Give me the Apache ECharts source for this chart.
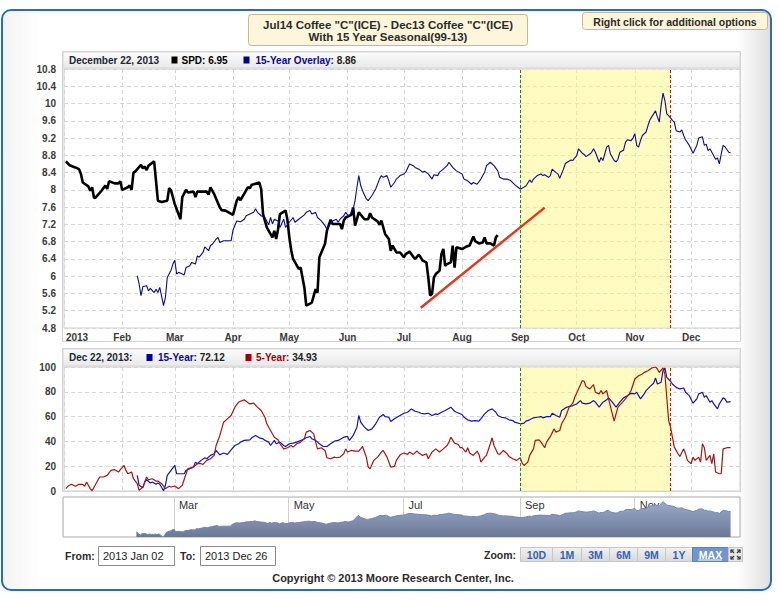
<!DOCTYPE html>
<html>
<head>
<meta charset="utf-8">
<script src="https://cdn.jsdelivr.net/npm/echarts@6/dist/echarts.min.js"></script>
<style>
html, body { margin: 0; padding: 0; background: #fff; }
#chart { width: 780px; height: 600px; }
</style>
</head>
<body>
<div id="chart"></div>
<script>
// Jul14 - Dec13 coffee spread (SPD), black line
var spd = [
    ['2013-01-02', 8.66], ['2013-01-04', 8.57], ['2013-01-07', 8.52], ['2013-01-09', 8.48], ['2013-01-10', 8.37],
    ['2013-01-11', 8.17], ['2013-01-14', 8.08], ['2013-01-15', 7.98], ['2013-01-16', 8.06], ['2013-01-17', 7.81],
    ['2013-01-18', 7.83], ['2013-01-21', 7.98], ['2013-01-23', 8.10], ['2013-01-24', 8.02], ['2013-01-25', 8.20],
    ['2013-01-28', 8.15], ['2013-01-30', 8.15], ['2013-01-31', 8.20], ['2013-02-01', 8.00], ['2013-02-04', 8.06],
    ['2013-02-05', 8.10], ['2013-02-06', 8.00], ['2013-02-07', 8.40], ['2013-02-08', 8.43], ['2013-02-11', 8.58],
    ['2013-02-12', 8.50], ['2013-02-13', 8.54], ['2013-02-14', 8.46], ['2013-02-15', 8.56], ['2013-02-18', 8.66],
    ['2013-02-19', 8.21], ['2013-02-20', 7.75], ['2013-02-22', 7.72], ['2013-02-25', 7.75], ['2013-02-26', 8.04],
    ['2013-02-27', 7.99], ['2013-03-01', 7.67], ['2013-03-04', 7.32], ['2013-03-05', 7.83], ['2013-03-07', 8.00],
    ['2013-03-08', 7.94], ['2013-03-11', 7.96], ['2013-03-12', 7.83], ['2013-03-13', 7.96], ['2013-03-15', 7.96],
    ['2013-03-18', 7.96], ['2013-03-19', 7.89], ['2013-03-20', 8.06], ['2013-03-22', 7.90], ['2013-03-25', 7.59],
    ['2013-03-26', 7.53], ['2013-03-28', 7.52], ['2013-04-01', 7.42], ['2013-04-03', 7.75], ['2013-04-04', 7.83],
    ['2013-04-05', 7.76], ['2013-04-08', 7.99], ['2013-04-09', 8.06], ['2013-04-10', 8.04], ['2013-04-11', 8.12],
    ['2013-04-12', 8.13], ['2013-04-15', 8.17], ['2013-04-16', 8.02], ['2013-04-17', 7.44], ['2013-04-19', 7.13],
    ['2013-04-22', 6.90], ['2013-04-23', 7.05], ['2013-04-24', 6.86], ['2013-04-25', 7.09], ['2013-04-26', 7.44],
    ['2013-04-29', 7.52], ['2013-04-30', 7.30], ['2013-05-01', 6.90], ['2013-05-02', 6.60], ['2013-05-03', 6.40],
    ['2013-05-06', 6.17], ['2013-05-07', 6.20], ['2013-05-09', 5.74], ['2013-05-10', 5.32], ['2013-05-13', 5.39],
    ['2013-05-14', 5.55], ['2013-05-15', 5.70], ['2013-05-16', 5.62], ['2013-05-17', 6.44], ['2013-05-20', 6.75],
    ['2013-05-21', 7.05], ['2013-05-23', 7.31], ['2013-05-24', 7.21], ['2013-05-28', 7.21], ['2013-05-29', 7.09],
    ['2013-05-30', 7.29], ['2013-05-31', 7.36], ['2013-06-03', 7.42], ['2013-06-04', 7.59], ['2013-06-05', 7.17],
    ['2013-06-07', 7.48], ['2013-06-10', 7.32], ['2013-06-12', 7.32], ['2013-06-13', 7.46], ['2013-06-14', 7.36],
    ['2013-06-17', 7.27], ['2013-06-18', 7.19], ['2013-06-19', 7.29], ['2013-06-21', 6.98], ['2013-06-23', 6.86],
    ['2013-06-24', 6.59], ['2013-06-25', 6.71], ['2013-06-27', 6.55], ['2013-06-29', 6.55], ['2013-07-01', 6.44],
    ['2013-07-02', 6.51], ['2013-07-04', 6.57], ['2013-07-06', 6.45], ['2013-07-07', 6.40], ['2013-07-09', 6.50],
    ['2013-07-11', 6.36], ['2013-07-13', 6.32], ['2013-07-14', 5.97], ['2013-07-15', 5.55], ['2013-07-16', 5.59],
    ['2013-07-17', 5.97], ['2013-07-18', 6.05], ['2013-07-20', 6.13], ['2013-07-21', 6.51], ['2013-07-22', 6.63],
    ['2013-07-23', 6.24], ['2013-07-24', 6.28], ['2013-07-26', 6.32], ['2013-07-27', 6.71], ['2013-07-28', 6.20],
    ['2013-07-29', 6.67], ['2013-08-01', 6.63], ['2013-08-03', 6.68], ['2013-08-05', 6.71], ['2013-08-07', 6.92],
    ['2013-08-08', 6.81], ['2013-08-10', 6.76], ['2013-08-12', 6.78], ['2013-08-13', 6.90], ['2013-08-14', 6.76],
    ['2013-08-16', 6.76], ['2013-08-18', 6.71], ['2013-08-19', 6.90], ['2013-08-20', 6.95]
];

// 15-year seasonal overlay (blue, top chart and navigator)
var overlay = [
    ['2013-02-09', 6.01], ['2013-02-10', 5.82], ['2013-02-11', 5.55], ['2013-02-12', 5.76], ['2013-02-14', 5.78],
    ['2013-02-15', 5.66], ['2013-02-16', 5.72], ['2013-02-18', 5.62], ['2013-02-19', 5.70], ['2013-02-20', 5.62],
    ['2013-02-21', 5.74], ['2013-02-23', 5.32], ['2013-02-24', 5.51], ['2013-02-25', 5.97], ['2013-02-27', 6.14],
    ['2013-02-28', 6.28], ['2013-03-01', 6.37], ['2013-03-02', 6.05], ['2013-03-03', 6.09], ['2013-03-05', 6.05],
    ['2013-03-06', 6.03], ['2013-03-07', 6.20], ['2013-03-09', 6.24], ['2013-03-10', 6.32], ['2013-03-12', 6.28],
    ['2013-03-13', 6.47], ['2013-03-14', 6.44], ['2013-03-16', 6.55], ['2013-03-17', 6.68], ['2013-03-19', 6.59],
    ['2013-03-20', 6.71], ['2013-03-21', 6.74], ['2013-03-23', 6.86], ['2013-03-24', 6.90], ['2013-03-25', 6.78],
    ['2013-03-27', 6.82], ['2013-03-28', 6.82], ['2013-03-31', 6.82], ['2013-04-01', 7.07], ['2013-04-03', 7.28],
    ['2013-04-05', 7.26], ['2013-04-07', 7.32], ['2013-04-08', 7.40], ['2013-04-10', 7.44], ['2013-04-12', 7.48],
    ['2013-04-13', 7.56], ['2013-04-14', 7.48], ['2013-04-16', 7.40], ['2013-04-18', 7.36], ['2013-04-20', 7.19],
    ['2013-04-21', 7.36], ['2013-04-22', 7.21], ['2013-04-23', 7.32], ['2013-04-25', 7.28], ['2013-04-26', 7.13],
    ['2013-04-28', 7.32], ['2013-04-29', 7.13], ['2013-05-01', 7.25], ['2013-05-03', 7.36], ['2013-05-04', 7.25],
    ['2013-05-06', 7.32], ['2013-05-09', 7.42], ['2013-05-10', 7.48], ['2013-05-12', 7.52], ['2013-05-13', 7.44],
    ['2013-05-15', 7.48], ['2013-05-16', 7.36], ['2013-05-18', 7.28], ['2013-05-20', 7.17], ['2013-05-21', 7.09],
    ['2013-05-22', 7.17], ['2013-05-24', 7.28], ['2013-05-26', 7.32], ['2013-05-27', 7.25], ['2013-05-28', 7.32],
    ['2013-05-30', 7.40], ['2013-05-31', 7.48], ['2013-06-01', 7.42], ['2013-06-02', 7.40], ['2013-06-04', 7.56],
    ['2013-06-05', 7.75], ['2013-06-06', 8.06], ['2013-06-07', 8.33], ['2013-06-08', 8.10], ['2013-06-09', 7.98],
    ['2013-06-11', 7.79], ['2013-06-12', 7.75], ['2013-06-14', 7.87], ['2013-06-16', 8.02], ['2013-06-18', 8.25],
    ['2013-06-19', 8.33], ['2013-06-20', 8.29], ['2013-06-22', 8.33], ['2013-06-23', 8.21], ['2013-06-24', 8.06],
    ['2013-06-26', 8.17], ['2013-06-27', 8.25], ['2013-06-29', 8.33], ['2013-07-01', 8.37], ['2013-07-02', 8.41],
    ['2013-07-04', 8.60], ['2013-07-06', 8.56], ['2013-07-07', 8.52], ['2013-07-09', 8.48], ['2013-07-11', 8.41],
    ['2013-07-12', 8.43], ['2013-07-14', 8.37], ['2013-07-16', 8.25], ['2013-07-17', 8.35], ['2013-07-19', 8.33],
    ['2013-07-20', 8.41], ['2013-07-22', 8.48], ['2013-07-24', 8.56], ['2013-07-25', 8.64], ['2013-07-27', 8.52],
    ['2013-07-29', 8.44], ['2013-08-01', 8.37], ['2013-08-02', 8.25], ['2013-08-04', 8.21], ['2013-08-06', 8.13],
    ['2013-08-07', 8.17], ['2013-08-09', 8.13], ['2013-08-11', 8.25], ['2013-08-13', 8.41], ['2013-08-14', 8.56],
    ['2013-08-16', 8.64], ['2013-08-18', 8.56], ['2013-08-20', 8.44], ['2013-08-21', 8.29], ['2013-08-23', 8.25],
    ['2013-08-25', 8.25], ['2013-08-27', 8.21], ['2013-08-29', 8.12], ['2013-09-01', 8.02], ['2013-09-02', 8.04],
    ['2013-09-04', 8.09], ['2013-09-06', 8.23], ['2013-09-07', 8.17], ['2013-09-08', 8.25], ['2013-09-10', 8.33],
    ['2013-09-12', 8.37], ['2013-09-13', 8.33], ['2013-09-14', 8.35], ['2013-09-16', 8.29], ['2013-09-17', 8.33],
    ['2013-09-18', 8.48], ['2013-09-20', 8.40], ['2013-09-21', 8.37], ['2013-09-22', 8.27], ['2013-09-24', 8.48],
    ['2013-09-25', 8.61], ['2013-09-26', 8.64], ['2013-09-28', 8.69], ['2013-09-29', 8.68], ['2013-09-30', 8.74],
    ['2013-10-01', 8.79], ['2013-10-02', 8.95], ['2013-10-04', 8.85], ['2013-10-05', 8.82], ['2013-10-06', 8.77],
    ['2013-10-08', 8.83], ['2013-10-09', 8.87], ['2013-10-10', 8.95], ['2013-10-11', 8.87], ['2013-10-13', 8.64],
    ['2013-10-14', 8.75], ['2013-10-15', 8.68], ['2013-10-17', 8.99], ['2013-10-18', 9.03], ['2013-10-19', 8.83],
    ['2013-10-21', 8.68], ['2013-10-22', 8.65], ['2013-10-23', 8.71], ['2013-10-24', 8.87], ['2013-10-26', 8.92],
    ['2013-10-27', 9.10], ['2013-10-28', 9.16], ['2013-10-30', 9.14], ['2013-10-31', 9.20], ['2013-11-01', 9.30],
    ['2013-11-02', 9.03], ['2013-11-03', 8.99], ['2013-11-04', 9.14], ['2013-11-05', 9.26], ['2013-11-07', 9.34],
    ['2013-11-08', 9.49], ['2013-11-09', 9.62], ['2013-11-10', 9.69], ['2013-11-12', 9.83], ['2013-11-13', 9.69],
    ['2013-11-14', 9.57], ['2013-11-15', 9.96], ['2013-11-16', 10.24], ['2013-11-17', 10.07], ['2013-11-18', 9.76],
    ['2013-11-19', 9.72], ['2013-11-21', 9.61], ['2013-11-22', 9.57], ['2013-11-23', 9.37], ['2013-11-25', 9.34],
    ['2013-11-26', 9.39], ['2013-11-27', 9.26], ['2013-11-28', 9.16], ['2013-11-30', 9.03], ['2013-12-02', 8.85],
    ['2013-12-04', 9.03], ['2013-12-05', 9.20], ['2013-12-07', 9.23], ['2013-12-08', 9.03], ['2013-12-09', 9.06],
    ['2013-12-10', 8.91], ['2013-12-11', 8.95], ['2013-12-12', 8.87], ['2013-12-14', 8.71], ['2013-12-15', 8.74],
    ['2013-12-16', 8.60], ['2013-12-17', 8.83], ['2013-12-18', 9.03], ['2013-12-19', 9.00], ['2013-12-21', 8.87],
    ['2013-12-22', 8.86]
];

// lower panel: 15-year seasonal index (blue)
var seas15 = [
    ['2013-02-09', 12.6], ['2013-02-10', 4.6], ['2013-02-12', 2.7], ['2013-02-13', 7.2], ['2013-02-14', 9.1],
    ['2013-02-16', 6.4], ['2013-02-17', 7.2], ['2013-02-19', 5.4], ['2013-02-20', 6.4], ['2013-02-21', 5.4],
    ['2013-02-23', 0.2], ['2013-02-24', 4.6], ['2013-02-25', 12.6], ['2013-02-27', 16.6], ['2013-03-01', 20.6],
    ['2013-03-02', 13.9], ['2013-03-04', 13.9], ['2013-03-06', 13.9], ['2013-03-07', 16.6], ['2013-03-09', 18.0],
    ['2013-03-11', 19.3], ['2013-03-12', 23.3], ['2013-03-13', 22.0], ['2013-03-15', 24.7], ['2013-03-17', 26.8],
    ['2013-03-18', 26.0], ['2013-03-20', 28.7], ['2013-03-22', 30.0], ['2013-03-23', 32.7], ['2013-03-25', 29.2],
    ['2013-03-27', 30.6], ['2013-03-29', 29.5], ['2013-03-31', 33.2], ['2013-04-02', 36.7], ['2013-04-04', 38.1],
    ['2013-04-05', 39.4], ['2013-04-07', 40.8], ['2013-04-10', 41.3], ['2013-04-11', 42.9], ['2013-04-13', 44.8],
    ['2013-04-15', 42.9], ['2013-04-17', 42.1], ['2013-04-18', 40.8], ['2013-04-20', 39.4], ['2013-04-21', 36.7],
    ['2013-04-23', 40.8], ['2013-04-24', 38.1], ['2013-04-26', 39.4], ['2013-04-28', 36.7], ['2013-04-29', 35.9],
    ['2013-05-01', 38.1], ['2013-05-03', 38.6], ['2013-05-05', 39.4], ['2013-05-08', 41.3], ['2013-05-10', 42.9],
    ['2013-05-12', 44.0], ['2013-05-13', 42.1], ['2013-05-15', 40.8], ['2013-05-17', 38.1], ['2013-05-19', 35.9],
    ['2013-05-21', 35.9], ['2013-05-23', 38.1], ['2013-05-25', 40.2], ['2013-05-27', 40.8], ['2013-05-30', 43.4],
    ['2013-06-01', 44.0], ['2013-06-02', 40.8], ['2013-06-04', 44.8], ['2013-06-06', 51.5], ['2013-06-07', 60.9],
    ['2013-06-08', 55.5], ['2013-06-10', 51.5], ['2013-06-12', 48.8], ['2013-06-14', 50.1], ['2013-06-16', 54.2],
    ['2013-06-18', 59.5], ['2013-06-20', 61.7], ['2013-06-21', 60.0], ['2013-06-23', 59.5], ['2013-06-24', 56.0],
    ['2013-06-26', 58.2], ['2013-06-28', 60.0], ['2013-06-29', 60.9], ['2013-07-01', 62.7], ['2013-07-03', 63.5],
    ['2013-07-05', 66.2], ['2013-07-07', 64.3], ['2013-07-09', 63.5], ['2013-07-10', 62.7], ['2013-07-12', 62.2],
    ['2013-07-14', 62.7], ['2013-07-16', 60.9], ['2013-07-18', 62.2], ['2013-07-19', 61.7], ['2013-07-21', 63.5],
    ['2013-07-23', 64.9], ['2013-07-26', 67.6], ['2013-07-28', 64.3], ['2013-07-29', 63.5], ['2013-08-01', 61.7],
    ['2013-08-02', 59.5], ['2013-08-04', 57.4], ['2013-08-06', 56.3], ['2013-08-08', 56.8], ['2013-08-10', 56.3],
    ['2013-08-11', 58.2], ['2013-08-13', 62.2], ['2013-08-15', 64.9], ['2013-08-17', 66.2], ['2013-08-19', 63.5],
    ['2013-08-20', 60.9], ['2013-08-22', 59.5], ['2013-08-24', 59.0], ['2013-08-26', 57.4], ['2013-08-28', 56.8],
    ['2013-08-29', 55.5], ['2013-09-01', 54.2], ['2013-09-03', 54.7], ['2013-09-04', 56.3], ['2013-09-06', 57.4],
    ['2013-09-08', 59.0], ['2013-09-10', 59.5], ['2013-09-12', 60.0], ['2013-09-13', 59.0], ['2013-09-15', 60.0],
    ['2013-09-17', 60.0], ['2013-09-18', 62.7], ['2013-09-20', 60.9], ['2013-09-22', 59.5], ['2013-09-23', 64.9],
    ['2013-09-25', 67.0], ['2013-09-27', 68.1], ['2013-09-29', 68.9], ['2013-10-01', 70.2], ['2013-10-03', 72.9],
    ['2013-10-04', 70.8], ['2013-10-06', 70.2], ['2013-10-08', 70.8], ['2013-10-10', 72.9], ['2013-10-11', 71.6],
    ['2013-10-13', 67.6], ['2013-10-15', 71.6], ['2013-10-17', 73.5], ['2013-10-18', 75.1], ['2013-10-20', 71.6],
    ['2013-10-22', 67.6], ['2013-10-24', 71.6], ['2013-10-26', 75.1], ['2013-10-28', 76.9], ['2013-10-30', 78.8],
    ['2013-11-01', 78.3], ['2013-11-02', 79.6], ['2013-11-04', 74.3], ['2013-11-06', 78.3], ['2013-11-07', 81.0],
    ['2013-11-09', 84.2], ['2013-11-11', 86.9], ['2013-11-12', 91.2], ['2013-11-13', 86.3], ['2013-11-15', 87.7],
    ['2013-11-16', 97.0], ['2013-11-17', 99.2], ['2013-11-18', 91.7], ['2013-11-20', 88.5], ['2013-11-21', 86.3],
    ['2013-11-23', 83.6], ['2013-11-25', 82.3], ['2013-11-27', 83.1], ['2013-11-28', 79.6], ['2013-11-30', 76.9],
    ['2013-12-02', 70.8], ['2013-12-04', 74.3], ['2013-12-05', 78.3], ['2013-12-07', 79.6], ['2013-12-08', 75.6],
    ['2013-12-09', 76.9], ['2013-12-11', 71.6], ['2013-12-12', 72.9], ['2013-12-13', 70.2], ['2013-12-15', 66.2],
    ['2013-12-16', 70.2], ['2013-12-18', 75.1], ['2013-12-19', 74.3], ['2013-12-20', 71.6], ['2013-12-22', 72.12]
];

// lower panel: 5-year seasonal index (dark red)
var seas5 = [
    ['2013-01-02', 1.9], ['2013-01-03', 3.8], ['2013-01-05', 5.4], ['2013-01-07', 3.8], ['2013-01-09', 5.4],
    ['2013-01-11', 5.4], ['2013-01-12', 3.8], ['2013-01-13', 7.2], ['2013-01-15', 1.9], ['2013-01-16', 0.2],
    ['2013-01-18', 5.9], ['2013-01-20', 11.3], ['2013-01-22', 11.3], ['2013-01-24', 12.6], ['2013-01-26', 16.6],
    ['2013-01-28', 17.2], ['2013-01-30', 15.3], ['2013-01-31', 17.2], ['2013-02-02', 20.6], ['2013-02-03', 16.6],
    ['2013-02-04', 13.9], ['2013-02-06', 15.3], ['2013-02-07', 9.9], ['2013-02-09', 5.9], ['2013-02-10', 0.5],
    ['2013-02-12', 3.2], ['2013-02-14', 11.3], ['2013-02-15', 9.1], ['2013-02-17', 9.9], ['2013-02-19', 8.0],
    ['2013-02-20', 8.0], ['2013-02-22', 5.9], ['2013-02-24', 1.9], ['2013-02-26', 3.8], ['2013-02-27', 3.2],
    ['2013-03-01', 4.0], ['2013-03-03', 1.9], ['2013-03-05', 4.6], ['2013-03-07', 13.9], ['2013-03-08', 18.0],
    ['2013-03-10', 18.8], ['2013-03-11', 19.3], ['2013-03-13', 22.0], ['2013-03-15', 22.0], ['2013-03-16', 21.4],
    ['2013-03-18', 24.7], ['2013-03-20', 26.0], ['2013-03-22', 28.7], ['2013-03-23', 36.7], ['2013-03-25', 44.8],
    ['2013-03-27', 55.5], ['2013-03-29', 58.2], ['2013-03-31', 60.9], ['2013-04-02', 67.6], ['2013-04-04', 71.6],
    ['2013-04-05', 72.4], ['2013-04-07', 73.5], ['2013-04-08', 72.4], ['2013-04-10', 70.2], ['2013-04-12', 70.8],
    ['2013-04-14', 67.6], ['2013-04-16', 64.9], ['2013-04-18', 59.5], ['2013-04-19', 54.2], ['2013-04-21', 48.8],
    ['2013-04-23', 43.4], ['2013-04-25', 41.3], ['2013-04-26', 38.1], ['2013-04-28', 34.0], ['2013-04-30', 34.9],
    ['2013-05-02', 36.7], ['2013-05-03', 35.4], ['2013-05-05', 38.1], ['2013-05-07', 39.4], ['2013-05-09', 42.1],
    ['2013-05-10', 47.5], ['2013-05-12', 48.8], ['2013-05-14', 46.1], ['2013-05-15', 39.4], ['2013-05-16', 34.0],
    ['2013-05-18', 34.9], ['2013-05-20', 32.7], ['2013-05-21', 26.8], ['2013-05-23', 26.0], ['2013-05-25', 27.3],
    ['2013-05-26', 26.8], ['2013-05-28', 27.3], ['2013-05-30', 30.0], ['2013-05-31', 34.0], ['2013-06-01', 31.4],
    ['2013-06-03', 32.7], ['2013-06-05', 32.2], ['2013-06-07', 32.2], ['2013-06-08', 34.0], ['2013-06-09', 35.9],
    ['2013-06-11', 27.3], ['2013-06-12', 19.3], ['2013-06-13', 18.0], ['2013-06-15', 24.7], ['2013-06-17', 27.3],
    ['2013-06-19', 31.4], ['2013-06-20', 32.7], ['2013-06-22', 27.3], ['2013-06-24', 19.3], ['2013-06-26', 19.8],
    ['2013-06-27', 24.7], ['2013-06-29', 29.2], ['2013-07-01', 30.6], ['2013-07-03', 29.5], ['2013-07-04', 31.4],
    ['2013-07-06', 29.5], ['2013-07-08', 32.2], ['2013-07-09', 30.6], ['2013-07-11', 28.7], ['2013-07-13', 30.0],
    ['2013-07-14', 26.0], ['2013-07-16', 31.4], ['2013-07-18', 34.0], ['2013-07-20', 31.4], ['2013-07-22', 34.0],
    ['2013-07-24', 36.7], ['2013-07-25', 39.4], ['2013-07-26', 43.4], ['2013-07-28', 38.6], ['2013-07-30', 37.5],
    ['2013-07-31', 34.9], ['2013-08-01', 34.9], ['2013-08-03', 31.4], ['2013-08-04', 34.9], ['2013-08-05', 30.6],
    ['2013-08-07', 28.7], ['2013-08-09', 32.2], ['2013-08-10', 29.5], ['2013-08-11', 23.3], ['2013-08-13', 27.3],
    ['2013-08-14', 28.7], ['2013-08-16', 38.1], ['2013-08-17', 42.9], ['2013-08-18', 36.7], ['2013-08-20', 30.0],
    ['2013-08-21', 29.5], ['2013-08-23', 32.7], ['2013-08-25', 30.0], ['2013-08-26', 27.9], ['2013-08-28', 26.0],
    ['2013-08-30', 24.7], ['2013-09-01', 26.8], ['2013-09-02', 22.5], ['2013-09-03', 20.6], ['2013-09-05', 23.3],
    ['2013-09-06', 28.7], ['2013-09-08', 34.0], ['2013-09-09', 40.8], ['2013-09-11', 41.3], ['2013-09-12', 39.4],
    ['2013-09-14', 34.9], ['2013-09-15', 39.4], ['2013-09-17', 44.0], ['2013-09-19', 50.1], ['2013-09-20', 47.5],
    ['2013-09-22', 48.8], ['2013-09-23', 54.2], ['2013-09-25', 59.5], ['2013-09-27', 67.6], ['2013-09-29', 70.8],
    ['2013-09-30', 75.6], ['2013-10-02', 82.3], ['2013-10-04', 89.0], ['2013-10-05', 88.5], ['2013-10-06', 84.2],
    ['2013-10-08', 82.3], ['2013-10-10', 85.8], ['2013-10-11', 79.6], ['2013-10-13', 78.3], ['2013-10-14', 81.0],
    ['2013-10-15', 78.3], ['2013-10-17', 81.0], ['2013-10-18', 74.3], ['2013-10-20', 62.2], ['2013-10-21', 56.3],
    ['2013-10-22', 62.2], ['2013-10-23', 67.6], ['2013-10-25', 70.8], ['2013-10-27', 74.3], ['2013-10-29', 78.3],
    ['2013-10-30', 81.0], ['2013-11-01', 90.3], ['2013-11-03', 93.0], ['2013-11-05', 94.4], ['2013-11-06', 95.7],
    ['2013-11-08', 97.0], ['2013-11-10', 99.2], ['2013-11-12', 100], ['2013-11-13', 98.4], ['2013-11-14', 95.7],
    ['2013-11-16', 99.2], ['2013-11-17', 94.4], ['2013-11-18', 75.6], ['2013-11-19', 56.8], ['2013-11-20', 51.5],
    ['2013-11-21', 43.4], ['2013-11-22', 35.4], ['2013-11-24', 30.0], ['2013-11-25', 27.9], ['2013-11-27', 34.0],
    ['2013-11-28', 30.0], ['2013-11-29', 24.7], ['2013-12-01', 22.0], ['2013-12-02', 27.3], ['2013-12-03', 24.7],
    ['2013-12-05', 27.3], ['2013-12-06', 23.3], ['2013-12-07', 38.1], ['2013-12-08', 34.9], ['2013-12-09', 24.7],
    ['2013-12-11', 28.7], ['2013-12-12', 22.0], ['2013-12-13', 30.0], ['2013-12-14', 15.3], ['2013-12-16', 13.9],
    ['2013-12-17', 13.9], ['2013-12-18', 34.0], ['2013-12-20', 34.9], ['2013-12-22', 34.93]
];

// hand drawn trend line under the spread
var trend = [['2013-07-10', 5.27], ['2013-09-14', 7.59]];
// seasonal window (entry / exit)
var seasonWindow = ['2013-09-01', '2013-11-20'];
var axisStart = '2013-01-01';
var axisEnd = '2013-12-27';
var monthNames = ['Jan', 'Feb', 'Mar', 'Apr', 'May', 'Jun', 'Jul', 'Aug', 'Sep', 'Oct', 'Nov', 'Dec'];
var zoomButtons = ['10D', '1M', '3M', '6M', '9M', '1Y', 'MAX'];
var zoomBtnEdges = [520, 552, 581, 609, 637, 665, 692, 728];

var FONT = '"Liberation Sans", Arial, sans-serif';
var LABEL_COLOR = '#3a3a3a';

function monthLabel(v) {
    var d = new Date(v);
    // the year label sits to the right of the first tick, like the original
    return d.getMonth() === 0 ? '{y|' + d.getFullYear() + '}' : monthNames[d.getMonth()];
}
function navLabel(v) {
    var d = new Date(v);
    return d.getMonth() === 0 ? '' : monthNames[d.getMonth()];
}

var dashed = { color: '#d6d6d6', type: [4, 3], width: 1 };

function seasonMarks() {
    return {
        markArea: {
            silent: true,
            itemStyle: { color: 'rgba(255, 246, 125, 0.48)' },
            data: [[{ xAxis: seasonWindow[0] }, { xAxis: seasonWindow[1] }]]
        },
        markLine: {
            silent: true,
            symbol: 'none',
            label: { show: false },
            data: [
                { xAxis: seasonWindow[0], lineStyle: { color: '#1f8c1f', type: [3, 2], width: 1 } },
                { xAxis: seasonWindow[1], lineStyle: { color: '#e01010', type: [3, 2], width: 1 } }
            ]
        }
    };
}

var myChart = echarts.init(document.getElementById('chart'), null, { renderer: 'svg' });

var g = [];
// outer frame
g.push({
    type: 'rect', z: -20, silent: true,
    shape: { x: 2, y: 10, width: 769, height: 580, r: 9 },
    style: {
        fill: new echarts.graphic.LinearGradient(0, 0, 1, 0, [
            { offset: 0, color: '#f3f3f3' }, { offset: 0.05, color: '#ffffff' },
            { offset: 0.955, color: '#ffffff' }, { offset: 1, color: '#dedede' }
        ]),
        stroke: '#2b6cb4', lineWidth: 2
    }
});
// title box
g.push({ type: 'rect', z: 5, shape: { x: 248.5, y: 14.5, width: 279, height: 31, r: 3 },
    style: { fill: '#fdf6da', stroke: '#cbb88a', lineWidth: 1 } });
g.push({ type: 'text', z: 6, style: { x: 388, y: 24.5, text: 'Jul14 Coffee "C"(ICE) - Dec13 Coffee "C"(ICE)',
    font: 'bold 11.5px ' + FONT, fill: '#2b2b2b', align: 'center', verticalAlign: 'middle' } });
g.push({ type: 'text', z: 6, style: { x: 388, y: 37, text: 'With 15 Year Seasonal(99-13)',
    font: 'bold 11.5px ' + FONT, fill: '#2b2b2b', align: 'center', verticalAlign: 'middle' } });
// right click box
g.push({ type: 'rect', z: 5, shape: { x: 582.5, y: 12.5, width: 185, height: 17, r: 3 },
    style: { fill: '#fdf6da', stroke: '#cbb88a', lineWidth: 1 } });
g.push({ type: 'text', z: 6, style: { x: 675, y: 21.5, text: 'Right click for additional options',
    font: 'bold 10.5px ' + FONT, fill: '#2b2b2b', align: 'center', verticalAlign: 'middle' } });

// top panel frame + header
g.push({ type: 'rect', z: -10, shape: { x: 62.5, y: 51.5, width: 678, height: 290 },
    style: { fill: '#fff', stroke: '#d2d2d2', lineWidth: 1 } });
g.push({ type: 'rect', z: -9, shape: { x: 63, y: 52, width: 677, height: 16 },
    style: { fill: new echarts.graphic.LinearGradient(0, 0, 0, 1, [
        { offset: 0, color: '#fbfbfb' }, { offset: 1, color: '#e9e9e9' }]), stroke: '#d8d8d8', lineWidth: 1 } });
g.push({ type: 'text', z: 6, style: { x: 69, y: 60, text: 'December 22, 2013', font: 'bold 10px ' + FONT,
    fill: '#1d2635', verticalAlign: 'middle' } });
g.push({ type: 'rect', z: 6, shape: { x: 171.5, y: 56.5, width: 6, height: 7 }, style: { fill: '#000' } });
g.push({ type: 'text', z: 6, style: { x: 181.5, y: 60, text: 'SPD: 6.95', font: 'bold 10px ' + FONT,
    fill: '#000', verticalAlign: 'middle' } });
g.push({ type: 'rect', z: 6, shape: { x: 243.5, y: 56.5, width: 6, height: 7 }, style: { fill: '#000088' } });
g.push({ type: 'text', z: 6, style: { x: 255.5, y: 60, text: '{a|15-Year Overlay:} {b|8.86}',
    font: 'bold 10px ' + FONT, verticalAlign: 'middle',
    rich: { a: { fill: '#0a0a8a', font: 'bold 10px ' + FONT }, b: { fill: '#222', font: 'bold 10px ' + FONT } } } });

// bottom panel frame + header
g.push({ type: 'rect', z: -10, shape: { x: 62.5, y: 348.5, width: 678, height: 143 },
    style: { fill: '#fff', stroke: '#d2d2d2', lineWidth: 1 } });
g.push({ type: 'rect', z: -9, shape: { x: 63, y: 349, width: 677, height: 17 },
    style: { fill: new echarts.graphic.LinearGradient(0, 0, 0, 1, [
        { offset: 0, color: '#fbfbfb' }, { offset: 1, color: '#e9e9e9' }]), stroke: '#d8d8d8', lineWidth: 1 } });
g.push({ type: 'text', z: 6, style: { x: 69, y: 357.5, text: 'Dec 22, 2013:', font: 'bold 10px ' + FONT,
    fill: '#1d2635', verticalAlign: 'middle' } });
g.push({ type: 'rect', z: 6, shape: { x: 146.5, y: 354, width: 6, height: 7 }, style: { fill: '#0000a0' } });
g.push({ type: 'text', z: 6, style: { x: 158, y: 357.5, text: '{a|15-Year:} {b|72.12}', font: 'bold 10px ' + FONT,
    verticalAlign: 'middle',
    rich: { a: { fill: '#0a0a8a', font: 'bold 10px ' + FONT }, b: { fill: '#222', font: 'bold 10px ' + FONT } } } });
g.push({ type: 'rect', z: 6, shape: { x: 245.5, y: 354, width: 6, height: 7 }, style: { fill: '#a00000' } });
g.push({ type: 'text', z: 6, style: { x: 256, y: 357.5, text: '{a|5-Year:} {b|34.93}', font: 'bold 10px ' + FONT,
    verticalAlign: 'middle',
    rich: { a: { fill: '#a00000', font: 'bold 10px ' + FONT }, b: { fill: '#222', font: 'bold 10px ' + FONT } } } });

// date range inputs
g.push({ type: 'text', z: 6, style: { x: 65, y: 555.5, text: 'From:', font: 'bold 10.5px ' + FONT,
    fill: '#2b2b2b', verticalAlign: 'middle' } });
g.push({ type: 'rect', z: 5, shape: { x: 98.5, y: 546.5, width: 76, height: 19 },
    style: { fill: '#fff', stroke: '#8a8a8a', lineWidth: 1 } });
g.push({ type: 'text', z: 6, style: { x: 103, y: 556, text: '2013 Jan 02', font: '11px ' + FONT,
    fill: '#1a1a1a', verticalAlign: 'middle' } });
g.push({ type: 'text', z: 6, style: { x: 180, y: 555.5, text: 'To:', font: 'bold 10.5px ' + FONT,
    fill: '#2b2b2b', verticalAlign: 'middle' } });
g.push({ type: 'rect', z: 5, shape: { x: 200.5, y: 546.5, width: 75, height: 19 },
    style: { fill: '#fff', stroke: '#8a8a8a', lineWidth: 1 } });
g.push({ type: 'text', z: 6, style: { x: 205, y: 556, text: '2013 Dec 26', font: '11px ' + FONT,
    fill: '#1a1a1a', verticalAlign: 'middle' } });

// zoom buttons
g.push({ type: 'text', z: 6, style: { x: 484, y: 555, text: 'Zoom:', font: 'bold 10.5px ' + FONT,
    fill: '#2b2b2b', verticalAlign: 'middle' } });
zoomButtons.forEach(function (lbl, i) {
    var x0 = zoomBtnEdges[i], x1 = zoomBtnEdges[i + 1];
    var sel = lbl === 'MAX';
    g.push({ type: 'rect', z: 5, shape: { x: x0 + 0.5, y: 547.5, width: x1 - x0, height: 14 },
        style: { fill: sel ? '#7395cf' : new echarts.graphic.LinearGradient(0, 0, 0, 1, [
            { offset: 0, color: '#f2f2f2' }, { offset: 1, color: '#d8d8d8' }]),
            stroke: sel ? '#5d7fbd' : '#c6c6c6', lineWidth: 1 } });
    g.push({ type: 'text', z: 6, style: { x: (x0 + x1) / 2 + 0.5, y: 554.5, text: lbl,
        font: 'bold 10.5px ' + FONT, fill: sel ? '#ffffff' : '#3563b0', align: 'center', verticalAlign: 'middle' } });
    if (sel) {
        g.push({ type: 'line', z: 6, shape: { x1: x0 + 6, y1: 560, x2: x1 - 6, y2: 560 },
            style: { stroke: '#ffffff', lineWidth: 1 } });
    }
});
// fullscreen icon
g.push({ type: 'rect', z: 5, shape: { x: 728.5, y: 547.5, width: 14, height: 14 },
    style: { fill: '#e6e6e6', stroke: '#c6c6c6', lineWidth: 1 } });
[[731, 550, 1, 1], [740, 550, -1, 1], [731, 559, 1, -1], [740, 559, -1, -1]].forEach(function (c) {
    g.push({ type: 'polyline', z: 6, shape: { points: [[c[0], c[1] + 3 * c[3]], [c[0], c[1]], [c[0] + 3 * c[2], c[1]]] },
        style: { stroke: '#333', lineWidth: 1.2, fill: null } });
    g.push({ type: 'line', z: 6, shape: { x1: c[0], y1: c[1], x2: c[0] + 3 * c[2], y2: c[1] + 3 * c[3] },
        style: { stroke: '#333', lineWidth: 1.2 } });
});

g.push({ type: 'text', z: 6, style: { x: 393, y: 578, text: 'Copyright \u00a9 2013 Moore Research Center, Inc.',
    font: 'bold 11px ' + FONT, fill: '#2b2b2b', align: 'center', verticalAlign: 'middle' } });

function timeAxis(gridIndex, showLabels) {
    return {
        type: 'time', gridIndex: gridIndex, min: axisStart, max: axisEnd, splitNumber: 12,
        axisLine: { show: false }, axisTick: { show: false },
        splitLine: { show: true, lineStyle: dashed },
        axisLabel: {
            show: showLabels, formatter: monthLabel, fontFamily: FONT, fontSize: 10, fontWeight: 'bold',
            color: LABEL_COLOR, margin: 4, hideOverlap: false,
            rich: { y: { padding: [0, 0, 0, 26], fontFamily: FONT, fontSize: 10, fontWeight: 'bold', color: LABEL_COLOR } }
        }
    };
}

var option = {
    animation: false,
    backgroundColor: 'transparent',
    graphic: { elements: g },
    grid: [
        { left: 64, top: 69, width: 676, height: 259, show: true, backgroundColor: '#fff',
          borderColor: '#cfcfcf', borderWidth: 1, outerBoundsMode: 'none' },
        { left: 64, top: 367, width: 676, height: 124, show: true, backgroundColor: '#fff',
          borderColor: '#cfcfcf', borderWidth: 1, outerBoundsMode: 'none' },
        { left: 63, top: 497, width: 677, height: 40, show: true, backgroundColor: '#fff',
          borderColor: '#a8a8a8', borderWidth: 1, outerBoundsMode: 'none' }
    ],
    xAxis: [
        timeAxis(0, true),
        timeAxis(1, false),
        {
            type: 'time', gridIndex: 2, min: axisStart, max: axisEnd, splitNumber: 5, position: 'top',
            axisLine: { show: false }, axisTick: { show: false },
            splitLine: { show: true, lineStyle: { color: '#cfcfcf', width: 1 } },
            axisLabel: { inside: true, formatter: navLabel, fontFamily: FONT, fontSize: 11, color: '#333',
                align: 'left', padding: [0, 0, 0, 5], margin: 2, hideOverlap: false }
        }
    ],
    yAxis: [
        { type: 'value', gridIndex: 0, min: 4.8, max: 10.8, interval: 0.4,
          axisLine: { show: false }, axisTick: { show: false }, splitLine: { lineStyle: dashed },
          axisLabel: { fontFamily: FONT, fontSize: 10, fontWeight: 'bold', color: LABEL_COLOR, margin: 8 } },
        { type: 'value', gridIndex: 1, min: 0, max: 100, interval: 20,
          axisLine: { show: false }, axisTick: { show: false }, splitLine: { lineStyle: dashed },
          axisLabel: { fontFamily: FONT, fontSize: 10, fontWeight: 'bold', color: LABEL_COLOR, margin: 8 } },
        { type: 'value', gridIndex: 2, min: 5.3, max: 10.9, show: false, splitLine: { show: false } }
    ],
    series: [
        Object.assign({
            name: 'SPD', type: 'line', xAxisIndex: 0, yAxisIndex: 0, data: spd,
            showSymbol: false, symbol: 'none', lineStyle: { color: '#000', width: 2.6 }, z: 3
        }, seasonMarks()),
        {
            name: '15-Year Overlay', type: 'line', xAxisIndex: 0, yAxisIndex: 0, data: overlay,
            showSymbol: false, symbol: 'none', lineStyle: { color: '#0a0a96', width: 1.1 }, z: 3
        },
        {
            name: 'Trend', type: 'line', xAxisIndex: 0, yAxisIndex: 0, data: trend,
            showSymbol: false, symbol: 'none', lineStyle: { color: '#e4361e', width: 2.4 }, z: 4
        },
        Object.assign({
            name: '15-Year', type: 'line', xAxisIndex: 1, yAxisIndex: 1, data: seas15,
            showSymbol: false, symbol: 'none', lineStyle: { color: '#1414b4', width: 1.2 }, z: 3
        }, seasonMarks()),
        {
            name: '5-Year', type: 'line', xAxisIndex: 1, yAxisIndex: 1, data: seas5,
            showSymbol: false, symbol: 'none', lineStyle: { color: '#a31515', width: 1.2 }, z: 3
        },
        {
            name: 'Navigator', type: 'line', xAxisIndex: 2, yAxisIndex: 2, data: overlay,
            showSymbol: false, symbol: 'none', lineStyle: { color: '#7384ad', width: 1 },
            areaStyle: { origin: 'start', opacity: 1, color: new echarts.graphic.LinearGradient(0, 0, 0, 1, [
                { offset: 0, color: '#9aa9cb' }, { offset: 1, color: '#6c7995' }]) }
        }
    ]
};
myChart.setOption(option);
</script>
</body>
</html>
